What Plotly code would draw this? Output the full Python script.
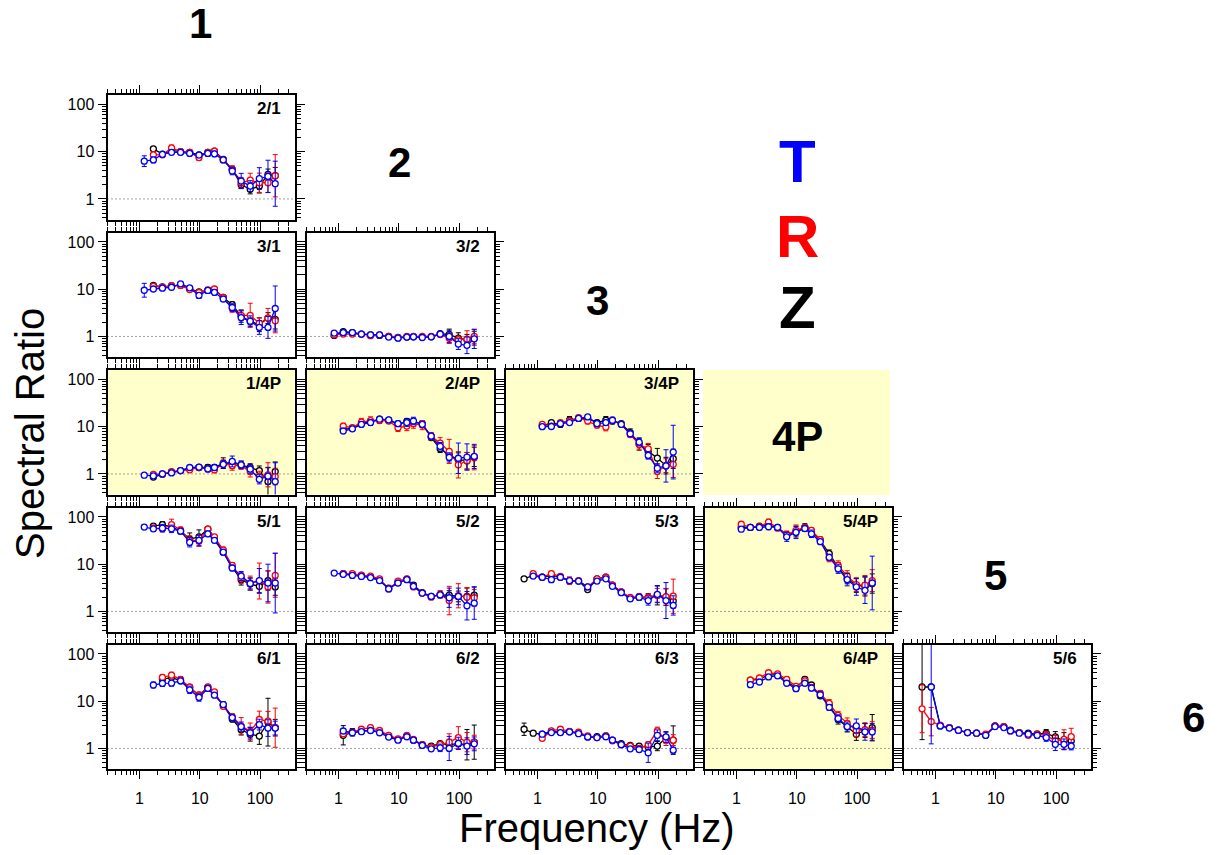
import plotly.graph_objects as go

N = None
FONT = "Liberation Sans, Arial, Helvetica, sans-serif"

# Frequency grid (Hz)
FREQ = [0.6, 0.85, 1.2, 1.7, 2.4, 3.4, 4.8, 6.8, 9.7, 13.6, 17.5, 24.5, 34.5, 48.5, 68.5, 97, 135, 178]

# ---- spectral ratios (T = transverse, R = radial, Z = vertical) and error factors ----
T_2_1 = [N, N, 6.3, 6.7, 8.8, 9.7, 9.7, 9.2, 8.5, 9.2, 9.0, 6.7, 3.9, 2.4, 1.87, 2.7, 3.0, 2.1]
R_2_1 = [N, N, N, 8.6, 8.6, 12.0, 10, 9.7, 7.5, 9.7, 10.3, 6.7, 4.2, 2.2, 2.5, 2.2, 2.2, 3.1]
Z_2_1 = [N, N, N, 11.5, 8.9, 10.5, 10, 9.7, 8.6, 9.7, 10.3, 6.9, 4.2, 2.0, 1.6, 1.87, 3.3, 3.1]
ET_2_1 = [1, 1, 1.3, 1.15, 1.12, 1.12, 1.12, 1.12, 1.12, 1.15, 1.15, 1.12, 1.2, 1.45, 1.3, 1.7, 2.2, 3.0]
ER_2_1 = [1, 1, 1, 1.15, 1.12, 1.15, 1.12, 1.12, 1.15, 1.12, 1.12, 1.12, 1.2, 1.3, 1.4, 1.6, 1.6, 2.8]
EZ_2_1 = [1, 1, 1, 1.12, 1.1, 1.12, 1.1, 1.1, 1.12, 1.1, 1.1, 1.1, 1.15, 1.2, 1.25, 1.4, 1.3, 1.5]

T_3_1 = [N, N, 9.5, 10.1, 10.5, 11, 13, 10.7, 7.4, 9.4, 8.6, 6.2, 4.1, 2.5, 2.1, 1.55, 1.55, 3.9]
R_3_1 = [N, N, N, 11.5, 11, 11.8, 12, 9.8, 8.5, 9.6, 10.1, 6.7, 3.9, 2.8, 2.8, 1.9, 2.45, 2.15]
Z_3_1 = [N, N, N, 12, 11.2, 11.8, 12.2, 10.2, 8.8, 9.4, 9.8, 6.7, 4.7, 2.7, 2.1, 1.77, 2.45, 2.3]
ET_3_1 = [1, 1, 1.4, 1.12, 1.12, 1.12, 1.12, 1.1, 1.15, 1.15, 1.15, 1.12, 1.2, 1.4, 1.3, 1.4, 1.7, 3.0]
ER_3_1 = [1, 1, 1, 1.12, 1.12, 1.15, 1.12, 1.1, 1.15, 1.15, 1.12, 1.12, 1.2, 1.25, 1.8, 1.3, 1.6, 1.8]
EZ_3_1 = [1, 1, 1, 1.1, 1.1, 1.1, 1.1, 1.1, 1.1, 1.1, 1.1, 1.1, 1.15, 1.35, 1.2, 1.4, 1.3, 1.6]

T_3_2 = [N, 1.18, 1.2, 1.2, 1.12, 1.08, 1.08, 0.97, 0.92, 0.97, 0.98, 0.95, 0.98, 1.12, 1.0, 0.69, 0.65, 0.89]
R_3_2 = [N, 1.08, 1.12, 1.12, 1.12, 1.04, 1.08, 1.0, 0.94, 1.0, 1.0, 1.0, 1.0, 1.1, 0.92, 0.85, 0.88, 1.0]
Z_3_2 = [N, 1.05, 1.27, 1.2, 1.12, 1.08, 1.05, 1.0, 0.95, 0.97, 0.98, 0.97, 0.98, 1.15, 1.1, 0.92, 0.85, 0.92]
ET_3_2 = [1, 1.06, 1.05, 1.05, 1.05, 1.05, 1.05, 1.05, 1.05, 1.05, 1.05, 1.05, 1.05, 1.1, 1.35, 1.3, 1.5, 1.6]
ER_3_2 = [1, 1.06, 1.05, 1.05, 1.05, 1.05, 1.05, 1.05, 1.05, 1.05, 1.05, 1.05, 1.05, 1.1, 1.3, 1.2, 1.5, 1.4]
EZ_3_2 = [1, 1.06, 1.05, 1.05, 1.05, 1.05, 1.05, 1.05, 1.05, 1.05, 1.05, 1.05, 1.05, 1.1, 1.3, 1.3, 1.3, 1.4]

T_1_4P = [N, N, 0.94, 0.91, 1.0, 1.05, 1.18, 1.37, 1.39, 1.28, 1.37, 1.6, 1.84, 1.56, 1.26, 0.77, 0.9, 0.69]
R_1_4P = [N, N, N, 0.98, 1.0, 1.1, 1.18, 1.22, 1.37, 1.28, 1.22, 1.65, 1.5, 1.5, 1.12, 0.88, 0.96, 0.88]
Z_1_4P = [N, N, N, 0.86, 0.99, 1.1, 1.18, 1.33, 1.37, 1.37, 1.37, 1.69, 1.69, 1.56, 1.37, 1.18, 0.69, 1.12]
ET_1_4P = [1, 1, 1.05, 1.08, 1.06, 1.06, 1.06, 1.1, 1.08, 1.15, 1.15, 1.2, 1.3, 1.2, 1.25, 1.25, 1.5, 2.5]
ER_1_4P = [1, 1, 1, 1.08, 1.06, 1.06, 1.06, 1.1, 1.08, 1.12, 1.15, 1.2, 1.25, 1.2, 1.3, 1.3, 1.8, 1.5]
EZ_1_4P = [1, 1, 1, 1.08, 1.06, 1.06, 1.06, 1.1, 1.08, 1.15, 1.12, 1.3, 1.2, 1.2, 1.2, 1.25, 2.0, 1.6]

T_2_4P = [N, N, 8.1, 9.0, 11.2, 12.2, 14.4, 13.9, 11.6, 12.2, 13.2, 11.2, 6.3, 3.85, 2.24, 2.15, 2.28, 2.35]
R_2_4P = [N, N, 10.3, 9.5, 12.5, 13.5, 13.5, 13.2, 9.5, 10.3, 11.6, 10.8, 6.3, 4.5, 3.0, 1.56, 1.9, 2.2]
Z_2_4P = [N, N, 8.8, 9.3, 11.6, 12.8, 14.4, 13.7, 11.2, 13.0, 12.5, 11.6, 5.9, 3.4, 2.55, 2.0, 1.9, 2.3]
ET_2_4P = [1, 1, 1.1, 1.1, 1.15, 1.15, 1.12, 1.1, 1.15, 1.2, 1.2, 1.15, 1.15, 1.2, 1.25, 2.1, 1.9, 1.8]
ER_2_4P = [1, 1, 1.15, 1.1, 1.2, 1.2, 1.15, 1.12, 1.2, 1.25, 1.25, 1.25, 1.2, 1.3, 1.8, 1.9, 1.5, 1.8]
EZ_2_4P = [1, 1, 1.1, 1.1, 1.12, 1.12, 1.1, 1.1, 1.12, 1.15, 1.15, 1.15, 1.15, 1.2, 1.3, 1.4, 1.5, 1.6]

T_3_4P = [N, N, 10, 10.1, 11.6, 12.2, 15, 16.1, 11.6, 12.2, 13.7, 11.2, 7.1, 4.7, 2.47, 1.32, 1.48, 2.9]
R_3_4P = [N, N, 11.2, 10.3, 12.2, 13.2, 15.5, 13.2, 10.8, 9.8, 13.7, 11.2, 6.8, 4.2, 3.4, 1.12, 1.5, 1.6]
Z_3_4P = [N, N, 10.3, 12.2, 11.2, 13.7, 15, 15, 12.2, 13.7, 13.2, 11.6, 7.5, 4.3, 3.0, 2.17, 1.5, 2.1]
ET_3_4P = [1, 1, 1.05, 1.08, 1.08, 1.1, 1.1, 1.1, 1.12, 1.15, 1.15, 1.12, 1.15, 1.2, 1.2, 1.25, 2.2, 3.7]
ER_3_4P = [1, 1, 1.08, 1.08, 1.1, 1.12, 1.12, 1.15, 1.15, 1.2, 1.15, 1.12, 1.15, 1.25, 1.3, 1.4, 1.4, 1.9]
EZ_3_4P = [1, 1, 1.05, 1.08, 1.15, 1.2, 1.12, 1.1, 1.12, 1.2, 1.15, 1.12, 1.2, 1.35, 1.4, 1.6, 1.5, 1.6]

T_5_1 = [N, N, 61, 56, 58, 56, 50, 29, 32, 44, 32, 18, 8.3, 5.6, 3.9, 4.5, 4.0, 4.0]
R_5_1 = [N, N, N, 58, 56, 69, 53, 32, 31, 55, 38, 20, 9.4, 5.1, 4.0, 4.4, 3.3, 5.8]
Z_5_1 = [N, N, N, 64, 69, 62, 50, 34, 38, 55, 36, 18, 8.6, 4.7, 3.8, 3.4, 4.5, 3.3]
ET_5_1 = [1, 1, 1.12, 1.12, 1.2, 1.2, 1.1, 1.25, 1.3, 1.15, 1.12, 1.12, 1.15, 1.25, 1.3, 1.8, 2.5, 4.3]
ER_5_1 = [1, 1, 1, 1.15, 1.15, 1.3, 1.15, 1.25, 1.3, 1.12, 1.12, 1.15, 1.15, 1.3, 1.4, 2.4, 2.2, 2.9]
EZ_5_1 = [1, 1, 1, 1.12, 1.15, 1.2, 1.12, 1.35, 1.4, 1.12, 1.12, 1.12, 1.15, 1.3, 1.35, 1.4, 1.6, 1.5]

T_5_2 = [N, 6.5, 6.1, 5.8, 5.5, 5.2, 4.5, 3.0, 4.0, 4.7, 3.4, 2.45, 2.08, 2.25, 1.95, 2.08, 1.32, 1.5]
R_5_2 = [N, N, 6.3, 6.3, 5.9, 5.6, 4.9, 3.0, 4.4, 4.9, 3.3, 2.45, 2.0, 2.3, 1.7, 2.15, 2.0, 1.95]
Z_5_2 = [N, N, 6.3, 6.1, 5.8, 5.4, 4.6, 3.1, 4.1, 4.8, 3.6, 2.5, 2.08, 2.25, 2.2, 2.08, 2.08, 2.2]
ET_5_2 = [1, 1.05, 1.08, 1.12, 1.1, 1.08, 1.06, 1.06, 1.08, 1.1, 1.08, 1.08, 1.1, 1.15, 1.6, 1.5, 2.0, 2.2]
ER_5_2 = [1, 1, 1.08, 1.1, 1.1, 1.08, 1.08, 1.06, 1.08, 1.1, 1.08, 1.08, 1.1, 1.2, 2.0, 1.8, 1.6, 1.5]
EZ_5_2 = [1, 1, 1.06, 1.08, 1.08, 1.06, 1.06, 1.06, 1.06, 1.08, 1.08, 1.08, 1.1, 1.12, 1.25, 1.3, 1.5, 1.5]

T_5_3 = [N, 5.6, 5.3, 4.7, 5.3, 4.5, 4.4, 3.3, 4.4, 4.9, 3.4, 2.5, 1.85, 2.0, 1.7, 2.3, 1.7, 1.34]
R_5_3 = [N, 6.3, 5.3, 6.3, 5.5, 4.5, 4.5, 3.3, 4.9, 5.3, 3.6, 2.6, 1.98, 2.05, 1.95, 2.2, 2.05, 2.1]
Z_5_3 = [4.9, 5.8, 5.3, 5.8, 5.3, 4.4, 4.4, 2.9, 4.9, 5.3, 3.6, 2.6, 1.9, 2.0, 1.98, 2.2, 2.0, 1.66]
ET_5_3 = [1, 1.08, 1.1, 1.15, 1.1, 1.12, 1.08, 1.08, 1.08, 1.08, 1.08, 1.1, 1.1, 1.15, 1.25, 1.5, 2.4, 1.6]
ER_5_3 = [1, 1.12, 1.1, 1.12, 1.12, 1.2, 1.08, 1.08, 1.1, 1.1, 1.08, 1.1, 1.1, 1.15, 1.2, 1.4, 1.5, 2.3]
EZ_5_3 = [1.05, 1.08, 1.08, 1.1, 1.08, 1.1, 1.06, 1.06, 1.08, 1.08, 1.06, 1.08, 1.1, 1.12, 1.2, 1.6, 1.5, 1.4]

T_5_4P = [N, N, 55, 60, 60, 62, 60, 38, 47, 57, 44, 30, 14, 8.0, 4.7, 3.3, 2.8, 4.0]
R_5_4P = [N, N, 70, 60, 62, 78, 58, 42, 52, 60, 52, 33, 13.5, 9.4, 5.6, 3.7, 3.6, 4.5]
Z_5_4P = [N, N, 60, 60, 64, 66, 60, 42, 49, 60, 49, 32, 16.7, 8.6, 5.0, 3.55, 3.4, 3.9]
ET_5_4P = [1, 1, 1.06, 1.06, 1.1, 1.15, 1.1, 1.25, 1.35, 1.15, 1.2, 1.12, 1.15, 1.25, 1.35, 1.5, 1.9, 3.7]
ER_5_4P = [1, 1, 1.08, 1.08, 1.12, 1.15, 1.1, 1.2, 1.3, 1.15, 1.15, 1.15, 1.2, 1.25, 1.3, 1.4, 1.6, 1.7]
EZ_5_4P = [1, 1, 1.06, 1.06, 1.1, 1.12, 1.08, 1.15, 1.3, 1.2, 1.15, 1.12, 1.2, 1.25, 1.3, 1.4, 1.6, 1.6]

T_6_1 = [N, N, N, 22, 23.8, 24.1, 27, 17.4, 12, 18.6, 13.4, 8.5, 4.5, 2.9, 2.15, 3.2, 2.7, 2.7]
R_6_1 = [N, N, N, N, 32, 35.6, 29, 20, 13.4, 20, 15.7, 7.8, 4.7, 3.0, 2.3, 4.1, 3.8, 2.75]
Z_6_1 = [N, N, N, N, 29, 32, 27, 19.5, 13.4, 19.5, 14, 8.3, 4.2, 2.5, 2.0, 1.83, 3.6, 2.75]
ET_6_1 = [1, 1, 1, 1.15, 1.15, 1.15, 1.15, 1.2, 1.2, 1.15, 1.12, 1.15, 1.15, 1.25, 1.3, 1.3, 1.5, 1.4]
ER_6_1 = [1, 1, 1, 1, 1.15, 1.15, 1.15, 1.12, 1.15, 1.12, 1.12, 1.12, 1.15, 1.5, 1.5, 1.5, 1.6, 2.6]
EZ_6_1 = [1, 1, 1, 1, 1.12, 1.12, 1.12, 1.12, 1.15, 1.12, 1.12, 1.12, 1.15, 1.3, 1.4, 1.5, 3.2, 1.5]

T_6_2 = [N, N, 2.34, 2.15, 2.26, 2.4, 2.15, 1.74, 1.5, 1.77, 1.5, 1.16, 0.98, 1.03, 1.0, 1.28, 1.12, 1.25]
R_6_2 = [N, N, 2.05, 2.2, 2.55, 2.75, 2.4, 1.9, 1.6, 1.9, 1.55, 1.2, 1.07, 1.2, 1.36, 1.7, 1.36, 1.36]
Z_6_2 = [N, N, 1.9, 2.2, 2.3, 2.45, 2.25, 1.84, 1.55, 1.84, 1.5, 1.2, 1.12, 1.26, 1.2, 1.26, 1.2, 1.36]
ET_6_2 = [1, 1, 1.12, 1.1, 1.12, 1.1, 1.08, 1.06, 1.06, 1.06, 1.06, 1.06, 1.1, 1.2, 1.8, 1.35, 1.5, 1.4]
ER_6_2 = [1, 1, 1.12, 1.1, 1.12, 1.12, 1.1, 1.06, 1.06, 1.06, 1.06, 1.06, 1.1, 1.15, 1.5, 1.7, 1.6, 1.4]
EZ_6_2 = [1, 1, 1.6, 1.2, 1.12, 1.1, 1.08, 1.06, 1.06, 1.06, 1.06, 1.06, 1.1, 1.12, 1.3, 1.3, 2.1, 2.3]

T_6_3 = [N, N, 2.0, 2.17, 2.17, 2.25, 2.05, 1.75, 1.7, 1.77, 1.5, 1.2, 0.98, 0.95, 0.81, 1.9, 1.75, 0.92]
R_6_3 = [N, N, 1.64, 2.35, 2.55, 2.3, 2.2, 1.84, 1.7, 1.84, 1.45, 1.2, 1.12, 1.0, 1.2, 2.35, 1.5, 1.5]
Z_6_3 = [2.55, 2.1, 2.0, 2.3, 2.2, 2.25, 2.1, 1.75, 1.77, 1.84, 1.5, 1.26, 1.16, 1.12, 1.07, 1.12, 1.7, 1.5]
ET_6_3 = [1, 1, 1.08, 1.08, 1.08, 1.08, 1.06, 1.06, 1.06, 1.06, 1.06, 1.06, 1.1, 1.12, 1.6, 1.3, 1.3, 1.15]
ER_6_3 = [1, 1, 1.1, 1.1, 1.1, 1.08, 1.06, 1.06, 1.06, 1.06, 1.06, 1.06, 1.1, 1.1, 1.15, 1.2, 1.3, 1.3]
EZ_6_3 = [1.35, 1.05, 1.08, 1.15, 1.1, 1.08, 1.06, 1.06, 1.06, 1.06, 1.06, 1.06, 1.1, 1.1, 1.15, 1.25, 1.3, 2.0]

T_6_4P = [N, N, N, 22.4, 25.5, 32.6, 34.4, 24, 18.4, 24, 19, 13.7, 7.4, 4.3, 2.9, 3.0, 2.24, 2.24]
R_6_4P = [N, N, N, 28, 31, 40, 38, 29, 20.6, 27, 19.5, 14.6, 9.0, 5.0, 3.4, 2.4, 2.5, 2.45]
Z_6_4P = [N, N, N, 28, 29, 36, 36, 26, 19, 29, 22, 13, 8.4, 4.1, 2.9, 2.0, 2.4, 2.75]
ET_6_4P = [1, 1, 1, 1.12, 1.12, 1.1, 1.1, 1.12, 1.15, 1.1, 1.15, 1.15, 1.15, 1.2, 1.25, 1.4, 1.5, 1.5]
ER_6_4P = [1, 1, 1, 1.1, 1.1, 1.1, 1.1, 1.1, 1.12, 1.12, 1.15, 1.15, 1.2, 1.2, 1.3, 1.35, 1.4, 1.5]
EZ_6_4P = [1, 1, 1, 1.1, 1.1, 1.1, 1.1, 1.1, 1.12, 1.12, 1.12, 1.12, 1.15, 1.25, 1.3, 1.35, 1.4, 1.9]

T_5_6 = [N, 20, 3.0, 2.7, 2.43, 2.17, 2.1, 1.9, 2.9, 2.77, 2.35, 2.1, 2.0, 1.9, 1.7, 1.22, 1.22, 1.12]
R_5_6 = [6.9, 3.7, 3.1, 2.77, 2.43, 2.17, 2.1, 2.0, 3.0, 2.9, 2.35, 2.17, 1.9, 2.0, 1.9, 1.44, 1.55, 1.78]
Z_5_6 = [20, 20, 3.0, 2.77, 2.43, 2.17, 2.1, 1.9, 3.0, 2.9, 2.43, 2.17, 2.1, 2.0, 2.1, 1.75, 1.44, 1.44]
ET_5_6 = [1, 16, 1.12, 1.1, 1.08, 1.06, 1.06, 1.06, 1.06, 1.06, 1.08, 1.08, 1.1, 1.15, 1.2, 1.35, 1.3, 1.2]
ER_5_6 = [3.2, 2.0, 1.1, 1.1, 1.08, 1.06, 1.06, 1.06, 1.06, 1.06, 1.08, 1.08, 1.1, 1.15, 1.2, 1.3, 1.6, 1.5]
EZ_5_6 = [13, 1.05, 1.12, 1.1, 1.08, 1.06, 1.06, 1.06, 1.06, 1.06, 1.08, 1.08, 1.1, 1.15, 1.2, 1.3, 1.5, 1.3]

# label, grid row, grid col, shaded, data
PANELS = [
    ("2/1", 0, 0, False, T_2_1, R_2_1, Z_2_1, ET_2_1, ER_2_1, EZ_2_1),
    ("3/1", 1, 0, False, T_3_1, R_3_1, Z_3_1, ET_3_1, ER_3_1, EZ_3_1),
    ("3/2", 1, 1, False, T_3_2, R_3_2, Z_3_2, ET_3_2, ER_3_2, EZ_3_2),
    ("1/4P", 2, 0, True, T_1_4P, R_1_4P, Z_1_4P, ET_1_4P, ER_1_4P, EZ_1_4P),
    ("2/4P", 2, 1, True, T_2_4P, R_2_4P, Z_2_4P, ET_2_4P, ER_2_4P, EZ_2_4P),
    ("3/4P", 2, 2, True, T_3_4P, R_3_4P, Z_3_4P, ET_3_4P, ER_3_4P, EZ_3_4P),
    ("5/1", 3, 0, False, T_5_1, R_5_1, Z_5_1, ET_5_1, ER_5_1, EZ_5_1),
    ("5/2", 3, 1, False, T_5_2, R_5_2, Z_5_2, ET_5_2, ER_5_2, EZ_5_2),
    ("5/3", 3, 2, False, T_5_3, R_5_3, Z_5_3, ET_5_3, ER_5_3, EZ_5_3),
    ("5/4P", 3, 3, True, T_5_4P, R_5_4P, Z_5_4P, ET_5_4P, ER_5_4P, EZ_5_4P),
    ("6/1", 4, 0, False, T_6_1, R_6_1, Z_6_1, ET_6_1, ER_6_1, EZ_6_1),
    ("6/2", 4, 1, False, T_6_2, R_6_2, Z_6_2, ET_6_2, ER_6_2, EZ_6_2),
    ("6/3", 4, 2, False, T_6_3, R_6_3, Z_6_3, ET_6_3, ER_6_3, EZ_6_3),
    ("6/4P", 4, 3, True, T_6_4P, R_6_4P, Z_6_4P, ET_6_4P, ER_6_4P, EZ_6_4P),
    ("5/6", 4, 4, False, T_5_6, R_5_6, Z_5_6, ET_5_6, ER_5_6, EZ_5_6),
]

SERIES_COLORS = {"T": "#0000ff", "R": "#ff0000", "Z": "#000000"}
YELLOW = "#ffffcc"

# ---- geometry ----
W, H = 1217, 855
COL_LEFT = [107.5, 306.5, 505.5, 704.5, 903.5]
ROW_TOP = [95.0, 232.5, 370.0, 507.5, 644.5]
PW, PH = 187.0, 124.5

XMAJ = [1, 10, 100]
XMIN = [0.3, 0.4, 0.5, 0.6, 0.7, 0.8, 0.9, 2, 3, 4, 5, 6, 7, 8, 9,
        20, 30, 40, 50, 60, 70, 80, 90, 200, 300]
YMAJ = [1, 10, 100]
YMIN = [0.4, 0.5, 0.6, 0.7, 0.8, 0.9, 2, 3, 4, 5, 6, 7, 8, 9,
        20, 30, 40, 50, 60, 70, 80, 90]


def errs(vals, fac):
    up = [0 if v is None else v * (f - 1) for v, f in zip(vals, fac)]
    dn = [0 if v is None else v * (1 - 1 / f) for v, f in zip(vals, fac)]
    return up, dn


fig = go.Figure()
layout = dict(
    width=W, height=H, margin=dict(l=0, r=0, t=0, b=0),
    paper_bgcolor="white", plot_bgcolor="white", showlegend=False,
    font=dict(family=FONT, color="black"),
)
shapes, annotations = [], []

for i, (lab, r, c, shaded, T, R, Z, ET, ER, EZ) in enumerate(PANELS):
    n = i + 1
    sfx = "" if n == 1 else str(n)
    xa, ya = f"xaxis{sfx}", f"yaxis{sfx}"
    xr, yr = f"x{sfx}", f"y{sfx}"
    x0 = COL_LEFT[c] / W
    x1 = (COL_LEFT[c] + PW) / W
    y1 = 1 - ROW_TOP[r] / H
    y0 = 1 - (ROW_TOP[r] + PH) / H
    common = dict(
        type="log", showline=True, linewidth=2, linecolor="black", mirror="ticks",
        ticks="outside", ticklen=8, tickwidth=1, tickcolor="black",
        showgrid=False, zeroline=False, tickmode="array",
        tickfont=dict(family=FONT, size=16, color="black"),
    )
    layout[xa] = dict(common, domain=[x0, x1], anchor=yr, range=[-0.53, 2.57],
                      tickvals=XMAJ, ticktext=["1", "10", "100"],
                      showticklabels=(r == 4), ticklabelstandoff=6,
                      minor=dict(tickmode="array", tickvals=XMIN, ticks="outside",
                                 ticklen=4, tickwidth=1, tickcolor="black", showgrid=False))
    layout[ya] = dict(common, domain=[y0, y1], anchor=xr, range=[-0.435, 2.2],
                      tickvals=YMAJ, ticktext=["1", "10", "100"],
                      showticklabels=(c == 0),
                      minor=dict(tickmode="array", tickvals=YMIN, ticks="outside",
                                 ticklen=4, tickwidth=1, tickcolor="black", showgrid=False))
    if shaded:
        shapes.append(dict(type="rect", xref=f"{xr} domain", yref=f"{yr} domain",
                           x0=0, x1=1, y0=0, y1=1, fillcolor=YELLOW,
                           line=dict(width=0), layer="below"))
    shapes.append(dict(type="line", xref=f"{xr} domain", yref=yr, x0=0, x1=1,
                       y0=1, y1=1, line=dict(color="#444444", width=1, dash="1px,3px"),
                       layer="below"))
    for name, vals, fac in (("Z", Z, EZ), ("R", R, ER), ("T", T, ET)):
        col = SERIES_COLORS[name]
        up, dn = errs(vals, fac)
        fig.add_trace(go.Scatter(
            x=FREQ, y=vals, xaxis=xr, yaxis=yr, mode="lines+markers", name=name,
            line=dict(color=col, width=1.3),
            marker=dict(symbol="circle", size=6, color="white",
                        line=dict(color=col, width=1.3)),
            error_y=dict(type="data", symmetric=False, array=up, arrayminus=dn,
                         color=col, thickness=1, width=2.5),
            hoverinfo="skip",
        ))
    annotations.append(dict(xref=f"{xr} domain", yref=f"{yr} domain", x=0.94, y=0.89,
                            xanchor="right", yanchor="middle", showarrow=False,
                            text=f"<b>{lab}</b>",
                            font=dict(family=FONT, size=17, color="black")))

# 4P box (diagonal cell)
shapes.append(dict(type="rect", xref="paper", yref="paper",
                   x0=703 / W, x1=890 / W, y0=1 - 495 / H, y1=1 - 370 / H,
                   fillcolor=YELLOW, line=dict(width=0), layer="below"))

# Diagonal station labels
STATION_LABELS = ["1", "2", "3", "4P", "5", "6"]
STATION_POS = [(200, 24), (399, 162), (597, 300), (797, 436), (995, 575), (1193, 717)]
for txt, (px, py) in zip(STATION_LABELS, STATION_POS):
    annotations.append(dict(xref="paper", yref="paper", x=px / W, y=1 - py / H,
                            xanchor="center", yanchor="middle", showarrow=False,
                            text=f"<b>{txt}</b>",
                            font=dict(family=FONT, size=42, color="black")))

# Component legend
LEGEND_LABELS = ["T", "R", "Z"]
LEGEND_POS = [(797, 161), (797, 236), (797, 308)]
for txt, (px, py) in zip(LEGEND_LABELS, LEGEND_POS):
    annotations.append(dict(xref="paper", yref="paper", x=px / W, y=1 - py / H,
                            xanchor="center", yanchor="middle", showarrow=False,
                            text=f"<b>{txt}</b>",
                            font=dict(family=FONT, size=60, color=SERIES_COLORS[txt])))

# Axis titles
annotations.append(dict(xref="paper", yref="paper", x=597 / W, y=1 - 828 / H,
                        xanchor="center", yanchor="middle", showarrow=False,
                        text="Frequency (Hz)", font=dict(family=FONT, size=40, color="black")))
annotations.append(dict(xref="paper", yref="paper", x=30 / W, y=1 - 434 / H,
                        xanchor="center", yanchor="middle", showarrow=False, textangle=-90,
                        text="Spectral Ratio", font=dict(family=FONT, size=40, color="black")))

layout["shapes"] = shapes
layout["annotations"] = annotations
fig.update_layout(**layout)
fig.write_html("out.html", config={"displayModeBar": False},
               post_script="document.body.style.margin='0px';document.body.style.padding='0px';")
